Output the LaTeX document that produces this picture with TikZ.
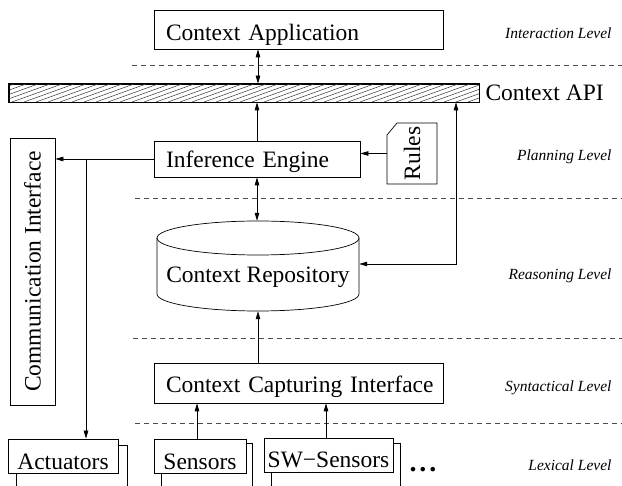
\documentclass[tikz,border=0pt]{standalone}
\usepackage{fontspec}
\setmainfont{Liberation Serif}
\usepackage{graphicx}
\usetikzlibrary{arrows.meta}
\begin{document}
\begin{tikzpicture}[x=1pt,y=-1pt,
  every node/.style={font=\fontsize{23.5}{28}\selectfont},
  box/.style={draw, line width=0.7pt, fill=white, inner sep=0pt, text depth=0pt},
  lbox/.style={box, inner xsep=12pt, align=left},
  lev/.style={anchor=east, font=\fontsize{15.5}{18}\itshape\selectfont},
  sep/.style={dash pattern=on 5pt off 4pt, line width=0.7pt, black!70},
  conn/.style={line width=0.7pt, -{Triangle[length=8pt,width=4.5pt]}},
  dconn/.style={line width=0.7pt, {Triangle[length=8pt,width=4.5pt]}-{Triangle[length=8pt,width=4.5pt]}},
  plain/.style={line width=0.7pt}
]
\useasboundingbox (0,0) rectangle (622,486);
\clip (0,0) rectangle (622,486);

% level separators
\draw[sep] (132,65) -- (622,65);
\draw[sep] (135,198) -- (622,198);
\draw[sep] (133,338) -- (622,338);
\draw[sep] (135,423) -- (622,423);

% level labels
\node[lev] (l1) at (615,33) {Interaction Level};
\node[lev] (l2) at (615,157) {Planning Level};
\node[lev] (l3) at (615,276) {Reasoning Level};
\node[lev] (l4) at (615,388) {Syntactical Level};
\node[lev] (l5) at (615,465) {Lexical Level};

% boxes
\node[lbox, minimum height=39pt, text width=265pt, text height=22pt] (ca) at (298.5,29.5) {\mbox{Context Application}};
\node[lbox, minimum height=36pt, text width=182pt, text height=18pt] (ie) at (257,159) {\mbox{Inference Engine}};
\node[lbox, minimum height=40pt, text width=265pt, text height=20pt] (cci) at (298.5,383) {\mbox{Context Capturing Interface}};

% Context API bar
\node[draw, line width=0.7pt, inner sep=0pt, minimum width=470pt, minimum height=18pt] (api) at (244,93) {};
\begin{scope}
  \clip (api.south west) rectangle (api.north east);
  \foreach \i in {-60,-48,...,480} \draw[line width=0.5pt, black!80] (\i,102) -- ({\i+50},84);
\end{scope}
\draw[line width=0.7pt] (api.south west) rectangle (api.north east);
\node[anchor=west] (apil) at (482,93) {Context API};

% repository cylinder
\node[inner sep=0pt, minimum width=202pt, minimum height=90pt, text height=34pt, text depth=0pt] (repo) at (258,266) {Context Repository};
\draw[plain] (157,238) -- (157,294) arc[start angle=180, end angle=0, x radius=101, y radius=17] -- (359,238);
\draw[plain] (258,238) ellipse [x radius=101, y radius=17];

% rules
\node[inner sep=0pt, minimum width=50pt, minimum height=61pt] (rules) at (412,153.5) {\rotatebox{90}{Rules}};
\draw[plain] (387,135) -- (397,123) -- (437,123) -- (437,184) -- (387,184) -- cycle;

% communication interface
\node[box, minimum width=45pt, minimum height=267pt] (ci) at (32.5,271.5) {\rotatebox{90}{Communication Interface}};

% bottom stacked boxes
\draw[plain] (16,445) rectangle (127,495);
\node[box, minimum width=110pt, minimum height=34pt, text height=28pt] (act) at (63,456) {Actuators};
\draw[plain] (161,443) rectangle (252,495);
\node[box, minimum width=92pt, minimum height=34pt, text height=28pt] (sens) at (200,456) {Sensors};
\draw[plain] (271,443) rectangle (400,495);
\node[box, minimum width=129pt, minimum height=34pt, text height=26pt] (sw) at (328.5,455) {SW−Sensors};
\node[anchor=base, font=\fontsize{28}{30}\bfseries\selectfont] (dots) at (423,472) {.\kern3pt.\kern3pt.};

% connectors
\coordinate (ax) at (258,0);
\draw[dconn] (ca.south -| ax) -- (api.north -| ax);
\draw[conn] (ie.north) -- (ie.north |- api.south);
\draw[dconn] (ie.south) -- (ie.south |- repo.north);
\draw[conn] (repo.south |- cci.north) -- (repo.south);
\coordinate (rx) at (456,264);
\draw[dconn] (api.south -| rx) -- (rx) -- (repo.east |- rx);
\draw[conn] (rules.west) -- (rules.west -| ie.east);
\draw[conn] (ie.west) -- (ie.west -| ci.east);
\coordinate (j) at (86,159);
\draw[conn] (j) -- (j |- act.north);
\draw[conn] ([xshift=-3pt]sens.north) -- ([xshift=-3pt]sens.north |- cci.south);
\draw[conn] ([xshift=-2.5pt]sw.north) -- ([xshift=-2.5pt]sw.north |- cci.south);
\end{tikzpicture}
\end{document}
